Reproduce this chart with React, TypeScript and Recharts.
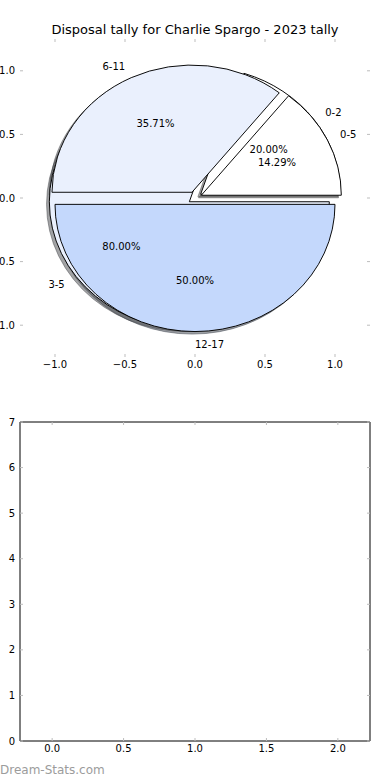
import React from 'react'
import { PieChart, Pie, Cell, ScatterChart, XAxis, YAxis } from 'recharts'

const FONT = '"DejaVu Sans", sans-serif'

// 2023 disposal tally, games per band
const bandsA = ['0-5', '6-11', '12-17']
const gamesA = [2, 5, 7]
const coloursA = ['#ffffff', '#eaf0fd', '#c4d8fc']

const bandsB = ['0-2', '3-5']
const gamesB = [1, 4]
const coloursB = ['#ffffff', '#eaf0fd']

const pieTicks = [-1, -0.5, 0, 0.5, 1]
const indexTicks = [0, 0.5, 1, 1.5, 2]
const countTicks = [0, 1, 2, 3, 4, 5, 6, 7]

const rowsA = bandsA.map((name, i) => ({ name, value: gamesA[i] }))
const rowsB = bandsB.map((name, i) => ({ name, value: gamesB[i] }))

// upper axes box in pixels, matplotlib pie limits +-1.25
const W = 390
const TOP_H = 390
const BOX = { left: 20, right: 370, top: 39, bottom: 357 }
const LIM = 1.25
const RX = (BOX.right - BOX.left) / (2 * LIM)
const RY = (BOX.bottom - BOX.top) / (2 * LIM)
const CX = (BOX.left + BOX.right) / 2
const CY = (BOX.top + BOX.bottom) / 2
const EXPLODE = 0.05
const SHADOW = 0.02
const TICK = '#bdbdbd'

function midAngles(values: number[]) {
  const total = values.reduce((s, v) => s + v, 0)
  let acc = 0
  return values.map((v) => {
    const m = ((acc + v / 2) / total) * 360
    acc += v
    return m
  })
}

function sliceTransform(mid: number, shadow: boolean) {
  const a = (mid * Math.PI) / 180
  let dx = EXPLODE * RX * Math.cos(a)
  let dy = -EXPLODE * RY * Math.sin(a)
  if (shadow) {
    dx -= SHADOW * RX
    dy += SHADOW * RY
  }
  return `translate(${dx} ${dy}) translate(${CX} ${CY}) scale(1 ${RY / RX}) translate(${-CX} ${-CY})`
}

function darken(hex: string) {
  const n = parseInt(hex.slice(1), 16)
  const r = Math.round(((n >> 16) & 255) * 0.3)
  const g = Math.round(((n >> 8) & 255) * 0.3)
  const b = Math.round((n & 255) * 0.3)
  return `rgb(${r},${g},${b})`
}

function wedges(rows: { name: string; value: number }[], colours: string[], key: string, shadow: boolean) {
  const mids = midAngles(rows.map((r) => r.value))
  return (
    <Pie
      key={key}
      data={rows}
      dataKey="value"
      nameKey="name"
      cx={CX}
      cy={CY}
      outerRadius={RX}
      startAngle={0}
      endAngle={360}
      labelLine={false}
      label={false}
      isAnimationActive={false}
    >
      {rows.map((r, i) => (
        <Cell
          key={r.name}
          fill={shadow ? darken(colours[i]) : colours[i]}
          fillOpacity={shadow ? 0.5 : 1}
          stroke={shadow ? darken(colours[i]) : '#000'}
          strokeOpacity={shadow ? 0.5 : 1}
          strokeWidth={1}
          transform={sliceTransform(mids[i], shadow)}
        />
      ))}
    </Pie>
  )
}

const renderLabels = (p: any) => {
  const a = (p.midAngle * Math.PI) / 180
  const cos = Math.cos(a)
  const sin = Math.sin(a)
  const k = RY / RX
  const r = p.outerRadius
  const ox = p.cx + EXPLODE * r * cos
  const oy = p.cy - EXPLODE * r * k * sin
  const name = p.name ?? p.payload?.name
  return (
    <g>
      <text x={ox + 1.1 * r * cos} y={oy - 1.1 * r * k * sin + 3.6} textAnchor={cos > -1e-9 ? 'start' : 'end'} fill="#000" fontSize={10} fontFamily={FONT}>
        {name}
      </text>
      <text x={ox + 0.6 * r * cos} y={oy - 0.6 * r * k * sin + 3.6} textAnchor="middle" fill="#000" fontSize={10} fontFamily={FONT}>
        {(p.percent * 100).toFixed(2)}%
      </text>
    </g>
  )
}

function labels(rows: { name: string; value: number }[], key: string) {
  return (
    <Pie
      key={key}
      data={rows}
      dataKey="value"
      nameKey="name"
      cx={CX}
      cy={CY}
      outerRadius={RX}
      startAngle={0}
      endAngle={360}
      fill="none"
      stroke="none"
      labelLine={false}
      label={renderLabels}
      isAnimationActive={false}
    />
  )
}

const fmtDec = (v: number) => v.toFixed(1).replace('-', '\u2212')
const fmtInt = (v: number) => String(v)

function makeTick(side: 'bottom' | 'top' | 'left' | 'right', fmt?: (v: number) => string) {
  return (p: any) => {
    const { x, y, payload } = p
    const len = 3
    let mark
    let txt = null
    if (side === 'bottom') {
      mark = <line x1={x} x2={x} y1={y} y2={y - len} stroke={TICK} />
      if (fmt) txt = <text x={x} y={y + 11.4} textAnchor="middle">{fmt(payload.value)}</text>
    } else if (side === 'top') {
      mark = <line x1={x} x2={x} y1={y} y2={y + len} stroke={TICK} />
    } else if (side === 'left') {
      mark = <line x1={x} x2={x + len} y1={y} y2={y} stroke={TICK} />
      if (fmt) txt = <text x={x - 5} y={y + 3.6} textAnchor="end">{fmt(payload.value)}</text>
    } else {
      mark = <line x1={x} x2={x - len} y1={y} y2={y} stroke={TICK} />
    }
    return (
      <g fontSize={10} fontFamily={FONT} fill="#000">
        {mark}
        {txt}
      </g>
    )
  }
}

function Frame({ height, top, bottom, xDomain, xTicks, yDomain, yTicks, xFmt, yFmt, line }: any) {
  const axisLine = line ? { stroke: '#000', strokeWidth: 1 } : false
  return (
    <ScatterChart width={W} height={height} margin={{ top: 0, right: 0, bottom: 0, left: 0 }}>
      <XAxis xAxisId="b" dataKey="x" type="number" orientation="bottom" domain={xDomain} ticks={xTicks} interval={0} allowDataOverflow height={bottom} axisLine={axisLine} tickLine={false} tickSize={0} tickMargin={0} tick={makeTick('bottom', xFmt)} />
      <XAxis xAxisId="t" dataKey="x" type="number" orientation="top" domain={xDomain} ticks={xTicks} interval={0} allowDataOverflow height={top} axisLine={axisLine} tickLine={false} tickSize={0} tickMargin={0} tick={makeTick('top')} />
      <YAxis yAxisId="l" dataKey="y" type="number" orientation="left" domain={yDomain} ticks={yTicks} interval={0} allowDataOverflow width={20} axisLine={axisLine} tickLine={false} tickSize={0} tickMargin={0} tick={makeTick('left', yFmt)} />
      <YAxis yAxisId="r" dataKey="y" type="number" orientation="right" domain={yDomain} ticks={yTicks} interval={0} allowDataOverflow width={20} axisLine={axisLine} tickLine={false} tickSize={0} tickMargin={0} tick={makeTick('right')} />
    </ScatterChart>
  )
}

export default function App() {
  return (
    <div style={{ position: 'absolute', left: 0, top: 0, width: W, height: 780, background: '#fff', fontFamily: FONT }}>
      <div style={{ position: 'absolute', left: 0, top: 0 }}>
        <Frame height={TOP_H} top={BOX.top} bottom={TOP_H - BOX.bottom} xDomain={[-LIM, LIM]} xTicks={pieTicks} yDomain={[-LIM, LIM]} yTicks={pieTicks} xFmt={fmtDec} yFmt={fmtDec} line={false} />
      </div>
      <div style={{ position: 'absolute', left: 0, top: 0 }}>
        <PieChart width={W} height={TOP_H} margin={{ top: 0, right: 0, bottom: 0, left: 0 }}>
          {wedges(rowsA, coloursA, 'shadowA', true)}
          {wedges(rowsB, coloursB, 'shadowB', true)}
          {wedges(rowsB, coloursB, 'wedgeB', false)}
          {wedges(rowsA, coloursA, 'wedgeA', false)}
          {labels(rowsB, 'labelB')}
          {labels(rowsA, 'labelA')}
        </PieChart>
      </div>
      <div style={{ position: 'absolute', left: 0, top: 22, width: W, textAlign: 'center', fontSize: 13, lineHeight: '16px', color: '#000' }}>
        Disposal tally for Charlie Spargo - 2023 tally
      </div>
      <div style={{ position: 'absolute', left: 0, top: 400 }}>
        <Frame height={370} top={22} bottom={29} xDomain={[-0.225, 2.225]} xTicks={indexTicks} yDomain={[0, 7]} yTicks={countTicks} xFmt={fmtDec} yFmt={fmtInt} line />
      </div>
      <div style={{ position: 'absolute', left: 0, top: 763, fontSize: 12, lineHeight: '14px', color: '#9c9c9c' }}>
        Dream-Stats.com
      </div>
    </div>
  )
}
